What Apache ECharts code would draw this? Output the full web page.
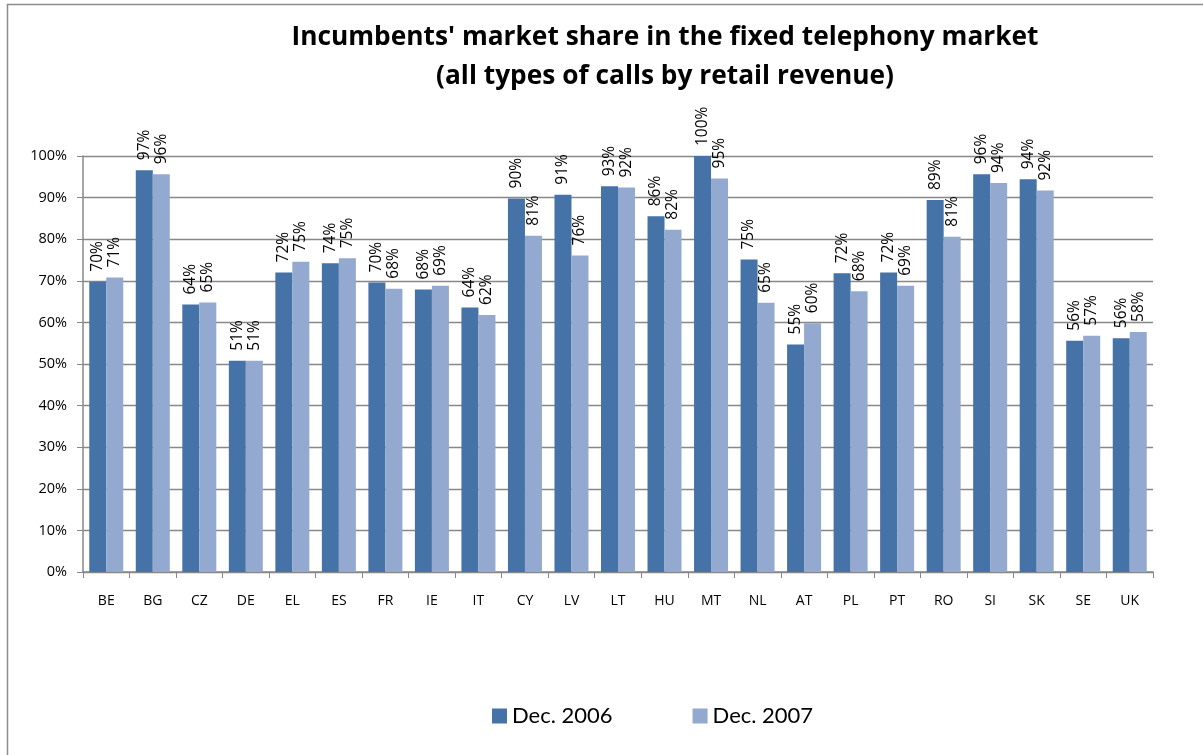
<!DOCTYPE html>
<html><head><meta charset="utf-8">
<script src="https://cdn.jsdelivr.net/npm/echarts@6/dist/echarts.min.js"></script>
<style>html,body{margin:0;padding:0;background:#fff}#c{width:1203px;height:755px}</style>
</head><body><div id="c"></div>
<script>
const categories = ['BE','BG','CZ','DE','EL','ES','FR','IE','IT','CY','LV','LT','HU','MT','NL','AT','PL','PT','RO','SI','SK','SE','UK'];
const dec2006 = [69.8,96.6,64.3,50.8,72.0,74.2,69.6,67.9,63.6,89.8,90.7,92.7,85.5,100,75.1,54.7,71.8,72.0,89.4,95.6,94.4,55.6,56.2];
const dec2007 = [70.8,95.6,64.8,50.8,74.6,75.4,68.1,68.8,61.8,80.8,76.1,92.4,82.3,94.6,64.7,59.8,67.5,68.8,80.6,93.5,91.7,56.8,57.7];
const yTicks = [0,10,20,30,40,50,60,70,80,90,100];
const seriesNames = ['Dec. 2006','Dec. 2007'];
const FONT = '"Open Sans", Lato, sans-serif';
const chart = echarts.init(document.getElementById('c'));
const lbl = {
  show: true, position: 'top', rotate: 90, align: 'left', verticalAlign: 'middle',
  distance: 10, fontFamily: FONT, fontSize: 15.5, color: '#000',
  formatter: p => Math.round(p.value) + '%'
};
chart.setOption({
  animation: false,
  graphic: [{type:'rect', shape:{x:7.5,y:4.5,width:1300,height:900}, style:{fill:null, stroke:'#8c8c8c', lineWidth:1.5}, silent:true}],
  title: {
    text: "Incumbents' market share in the fixed telephony market\n(all types of calls by retail revenue)",
    left: 660, textAlign: 'center', top: 13,
    textStyle: {fontFamily: FONT, fontWeight: 'bold', fontSize: 26.3, lineHeight: 39, color: '#000'}
  },
  legend: {
    data: seriesNames, top: 700, left: 487, itemWidth: 15, itemHeight: 15, itemGap: 80,
    icon: 'rect', textStyle: {fontFamily: 'Lato, sans-serif', fontSize: 22, color: '#000'}
  },
  grid: {left: 83, right: 50, top: 156, bottom: 183, containLabel: false},
  xAxis: {
    type: 'category', data: categories,
    axisLine: {lineStyle: {color: '#888', width: 1.5}},
    axisTick: {show: true, alignWithLabel: false, length: 6, lineStyle: {color: '#888'}},
    axisLabel: {fontFamily: FONT, fontSize: 14, color: '#000', margin: 22}
  },
  yAxis: {
    type: 'value', min: 0, max: 100, interval: 10,
    axisLine: {show: true, lineStyle: {color: '#888', width: 1.5}},
    axisTick: {show: true, length: 6, lineStyle: {color: '#888'}},
    axisLabel: {fontFamily: FONT, fontSize: 14.5, color: '#000', margin: 16, formatter: v => v + '%'},
    splitLine: {lineStyle: {color: '#888', width: 1.3}}
  },
  series: [
    {name: seriesNames[0], type: 'bar', data: dec2006, barWidth: 17, barGap: '0%', itemStyle: {color: '#4572A7'}, label: lbl},
    {name: seriesNames[1], type: 'bar', data: dec2007, barWidth: 17, barGap: '0%', itemStyle: {color: '#93A9CF'}, label: lbl}
  ]
});
</script></body></html>
